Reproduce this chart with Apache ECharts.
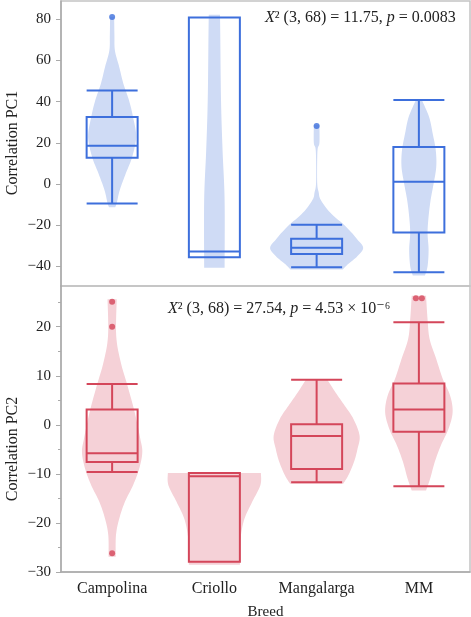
<!DOCTYPE html>
<html>
<head>
<meta charset="utf-8">
<script src="https://cdn.jsdelivr.net/npm/echarts@6/dist/echarts.min.js"></script>
<style>
  html, body { margin: 0; padding: 0; background: #fff; }
  #chart { width: 471px; height: 617px; }
</style>
</head>
<body>
<div id="chart"></div>
<script>
const breeds = ['Campolina', 'Criollo', 'Mangalarga', 'MM'];

const pc1Ticks = [-40, -20, 0, 20, 40, 60, 80];
const pc2Ticks = [-30, -20, -10, 0, 10, 20];
const pc2MinorTicks = [-25, -15, -5, 5, 15, 25];

// box stats: [min, Q1, median, Q3, max]
const pc1Boxes = [
  [-9.5, 12.7, 18.5, 32.5, 45.4],
  [-35.6, -35.6, -32.7, 80.8, 80.8],
  [-40.4, -34.0, -30.9, -26.6, -19.8],
  [-42.8, -23.5, 1.1, 18.0, 40.7]
];
const pc2Boxes = [
  [-9.6, -7.6, -5.8, 3.1, 8.3],
  [-27.9, -27.9, -10.5, -9.8, -9.8],
  [-11.7, -9.0, -2.3, 0.1, 9.2],
  [-12.5, -1.4, 3.1, 8.4, 20.9]
];

// outliers: [breed index, value]
const pc1Outliers = [[0, 81.0], [2, 28.2]];
const pc2Outliers = [[0, 25.1], [0, 20.0], [0, -26.2]];
const pc2OutliersMM = [[3, 25.8], [3, 25.8]];

// violin outlines: [value, half width as share of half band]
const pc1Violins = [
  [[-11.3, 0.06], [-9.3, 0.09], [-2.9, 0.15], [5.3, 0.27], [13, 0.39], [22.8, 0.47], [32.4, 0.41],
   [40.6, 0.33], [48.7, 0.22], [56.7, 0.14], [64.7, 0.055], [72, 0.045], [81, 0.04]],
  [[-40.7, 0.2], [-7.7, 0.2], [16.4, 0.16], [40.6, 0.13], [73, 0.115], [82.1, 0.11]],
  [[-41.5, 0.51], [-39, 0.61], [-35, 0.8], [-31, 0.91], [-27, 0.8], [-20.6, 0.57], [-14, 0.27],
   [-7.7, 0.08], [-4, 0.04], [0, 0.012], [10, 0.01], [17, 0.02], [20, 0.055], [28.5, 0.055]],
  [[-44.4, 0.12], [-39.9, 0.17], [-31.9, 0.19], [-23.8, 0.17], [-15.8, 0.19], [-7.7, 0.23], [0.4, 0.29],
   [8.4, 0.34], [16.4, 0.33], [24.5, 0.27], [32.5, 0.2], [40.6, 0.06]]
];
const pc2Violins = [
  [[-26.9, 0.07], [-22.5, 0.075], [-19.1, 0.14], [-15.7, 0.25], [-12.3, 0.41], [-8.9, 0.53], [-5.6, 0.59],
   [-2.8, 0.55], [2.6, 0.44], [8, 0.3], [12.7, 0.17], [18.1, 0.08], [25.6, 0.09]],
  [[-28.5, 0.5], [-25.9, 0.5], [-22.5, 0.52], [-19.1, 0.59], [-15.7, 0.74], [-12.3, 0.9], [-9.8, 0.91]],
  [[-12, 0.52], [-10.3, 0.62], [-7.6, 0.73], [-4.9, 0.8], [-2.2, 0.84], [1.2, 0.72], [3.9, 0.55],
   [6.6, 0.37], [9.2, 0.21]],
  [[-13.4, 0.14], [-11, 0.22], [-7.6, 0.31], [-4.2, 0.43], [-0.8, 0.58], [2.6, 0.66], [6, 0.61],
   [9.3, 0.47], [13.4, 0.34], [17.5, 0.21], [21.5, 0.17], [26.3, 0.14]]
];

const blue = '#3d6fdc', blueFill = '#cfdbf5';
const red = '#d4465a', redFill = '#f5d1d7';
const font = '"Liberation Serif", "DejaVu Serif", serif';

function minus(v) { return String(v).replace('-', '\u2212'); }

// catmull-rom through the outline points so the sides look smooth but ends stay flat
function smoothSide(pts) {
  const out = [];
  for (let k = 0; k < pts.length - 1; k++) {
    const p0 = pts[Math.max(k - 1, 0)], p1 = pts[k], p2 = pts[k + 1], p3 = pts[Math.min(k + 2, pts.length - 1)];
    for (let s = 0; s < 8; s++) {
      const t = s / 8, t2 = t * t, t3 = t2 * t;
      out.push([0, 1].map(function (j) {
        return 0.5 * ((2 * p1[j]) + (-p0[j] + p2[j]) * t +
          (2 * p0[j] - 5 * p1[j] + 4 * p2[j] - p3[j]) * t2 +
          (-p0[j] + 3 * p1[j] - 3 * p2[j] + p3[j]) * t3);
      }));
    }
  }
  out.push(pts[pts.length - 1]);
  return out;
}

function violinSeries(profiles, axisIdx, fill) {
  return {
    type: 'custom',
    xAxisIndex: axisIdx,
    yAxisIndex: axisIdx,
    silent: true,
    z: 1,
    data: profiles.map((p, i) => [i, p[0][0]]),
    encode: { x: 0, y: 1 },
    renderItem: function (params, api) {
      const i = api.value(0);
      const prof = profiles[params.dataIndex];
      const half = api.size([1, 0])[0] / 2;
      const right = [], left = [];
      prof.forEach(function (pt) {
        const c = api.coord([i, pt[0]]);
        right.push([c[0] + pt[1] * half, c[1]]);
        left.push([c[0] - pt[1] * half, c[1]]);
      });
      const pts = smoothSide(right).concat(smoothSide(left).reverse());
      return {
        type: 'polygon',
        shape: { points: pts },
        style: { fill: fill }
      };
    }
  };
}

function boxSeries(boxes, axisIdx, color) {
  return {
    type: 'boxplot',
    xAxisIndex: axisIdx,
    yAxisIndex: axisIdx,
    boxWidth: [51, 51],
    silent: true,
    z: 3,
    itemStyle: { color: 'transparent', borderColor: color, borderWidth: 2 },
    data: boxes
  };
}

function yAxisFor(idx, min, max, ticks) {
  return {
    type: 'value',
    gridIndex: idx,
    position: 'left',
    min: min, max: max,
    axisLine: { show: true, lineStyle: { color: '#aaa', width: 1.5 } },
    axisTick: { show: true, length: 5, customValues: ticks, lineStyle: { color: '#aaa' } },
    splitLine: { show: false },
    axisLabel: {
      margin: 10, fontFamily: font, fontSize: 15, color: '#222',
      customValues: ticks,
      formatter: minus
    }
  };
}

const chart = echarts.init(document.getElementById('chart'), null, { renderer: 'canvas' });

const yAxes = [
  yAxisFor(0, -49.5, 88.8, pc1Ticks),
  yAxisFor(1, -30, 28.3, pc2Ticks),
  // second axis on the lower grid only to draw the short minor ticks
  {
    type: 'value', gridIndex: 1, position: 'left', offset: 0, min: -30, max: 28.3,
    axisLine: { show: false },
    axisTick: { show: true, length: 3, customValues: pc2MinorTicks, lineStyle: { color: '#aaa' } },
    axisLabel: { show: false }, splitLine: { show: false }
  }
];

const gridBase = { left: 61, right: 1, show: true, borderColor: '#c4c4c4', borderWidth: 1.5, outerBoundsMode: 'none', containLabel: false };

chart.setOption({
  animation: false,
  grid: [
    Object.assign({ top: 1, height: 285 }, gridBase),
    Object.assign({ top: 286, height: 286 }, gridBase)
  ],
  xAxis: [
    {
      type: 'category', gridIndex: 0, data: breeds,
      axisLine: { show: false }, axisTick: { show: false }, axisLabel: { show: false }
    },
    {
      type: 'category', gridIndex: 1, data: breeds,
      axisLine: { show: true, onZero: false, lineStyle: { color: '#aaa', width: 1.5 } },
      axisTick: { show: false },
      axisLabel: { margin: 9, fontFamily: font, fontSize: 16, color: '#222' },
      name: 'Breed', nameLocation: 'middle', nameGap: 33,
      nameTextStyle: { fontFamily: font, fontSize: 15, color: '#222' }
    }
  ],
  yAxis: yAxes,
  graphic: [
    {
      type: 'text', rotation: Math.PI / 2, x: 13, y: 143,
      style: { text: 'Correlation PC1', font: '16px ' + font, fill: '#222', align: 'center', verticalAlign: 'middle' }
    },
    {
      type: 'text', rotation: Math.PI / 2, x: 13, y: 449,
      style: { text: 'Correlation PC2', font: '16px ' + font, fill: '#222', align: 'center', verticalAlign: 'middle' }
    },
    {
      type: 'text', x: 265, y: 18,
      style: {
        text: '{i|X}{n|\u00b2 (3, 68) = 11.75, }{i|p}{n| = 0.0083}',
        verticalAlign: 'middle',
        rich: {
          i: { fontFamily: font, fontSize: 16, fontStyle: 'italic', fill: '#222' },
          n: { fontFamily: font, fontSize: 16, fill: '#222' }
        }
      }
    },
    {
      type: 'text', x: 168, y: 309,
      style: {
        text: '{i|X}{n|\u00b2 (3, 68) = 27.54, }{i|p}{n| = 4.53 \u00d7 10\u207b\u2076}',
        verticalAlign: 'middle',
        rich: {
          i: { fontFamily: font, fontSize: 16, fontStyle: 'italic', fill: '#222' },
          n: { fontFamily: font, fontSize: 16, fill: '#222' }
        }
      }
    }
  ],
  series: [
    violinSeries(pc1Violins, 0, blueFill),
    violinSeries(pc2Violins, 1, redFill),
    boxSeries(pc1Boxes, 0, blue),
    boxSeries(pc2Boxes, 1, red),
    {
      type: 'scatter', xAxisIndex: 0, yAxisIndex: 0, z: 4, silent: true,
      symbolSize: 6, itemStyle: { color: blue }, data: pc1Outliers
    },
    {
      type: 'scatter', xAxisIndex: 1, yAxisIndex: 1, z: 4, silent: true,
      symbolSize: 6, itemStyle: { color: red }, data: pc2Outliers
    },
    {
      type: 'scatter', xAxisIndex: 1, yAxisIndex: 1, z: 4, silent: true,
      symbolSize: 6, itemStyle: { color: red },
      data: pc2OutliersMM.map(function (d, k) {
        return { value: d, symbolOffset: [k === 0 ? -3 : 3, 0] };
      })
    }
  ]
});
</script>
</body>
</html>
